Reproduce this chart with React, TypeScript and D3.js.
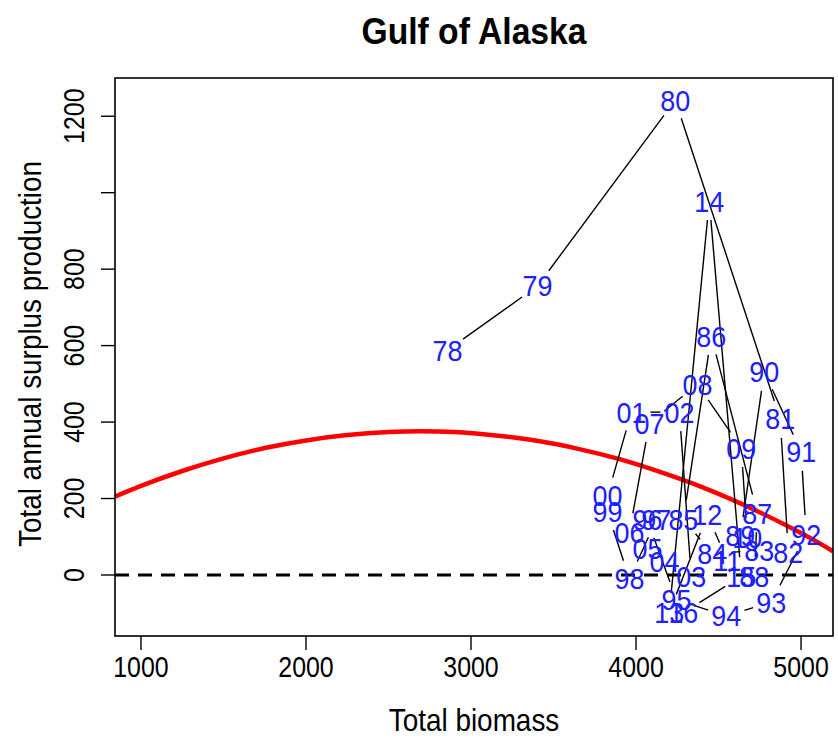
import React from "react";
import * as d3 from "d3";

const years = ["78","79","80","81","82","83","84","85","86","87","88","89","90","91","92","93","94","95","96","97","98","99","00","01","02","03","04","05","06","07","08","09","10","11","12","13","14","15","16"];
const biomass = [2858,3403,4238,4874,4923,4747,4462,4287,4456,4735,4717,4632,4777,5001,5031,4820,4547,4245,4069,4123,3960,3827,3827,3972,4263,4335,4172,4069,3960,4081,4372,4638,4674,4553,4432,4202,4444,4638,4287];
const surplus = [588,756,1242,408,60,65,55,146,625,162,-3,102,531,322,107,-71,-107,-65,144,144,-10,165,207,426,426,-5,34,68,112,397,499,332,99,39,157,-97,978,-3,-99];

const curveB = [842,1000,1250,1500,1750,2000,2250,2500,2700,2900,3150,3400,3650,3900,4150,4400,4650,4900,5100,5194];
const curveP = [205,233,272,305,332,352,366,374,376,374,365,351,330,303,269,230,184,132,86,62];

const xTicks = [1000,2000,3000,4000,5000];
const yTicks = [0,200,400,600,800,1000,1200];
const yTickLabels = ["0","200","400","600","800","","1200"];

const W = 838, H = 740;
const L = 115, R = 833, T = 78, B = 636;

export default function App() {
  const x = d3.scaleLinear().domain([842.6, 5193.7]).range([L, R]);
  const y = d3.scaleLinear().domain([-159.6, 1300]).range([B, T]);
  const font = "'Liberation Sans', Arial, Helvetica, sans-serif";

  const pts = years.map((yr, i) => ({ yr, px: x(biomass[i]), py: y(surplus[i]) }));
  const gap = 19;
  const segs: { x1: number; y1: number; x2: number; y2: number }[] = [];
  for (let i = 0; i < pts.length - 1; i++) {
    const a = pts[i], b = pts[i + 1];
    const dx = b.px - a.px, dy = b.py - a.py;
    const len = Math.hypot(dx, dy);
    if (len <= 2 * gap) continue;
    const ux = dx / len, uy = dy / len;
    segs.push({ x1: a.px + ux * gap, y1: a.py + uy * gap, x2: b.px - ux * gap, y2: b.py - uy * gap });
  }

  const line = d3.line<number>().x((_, i) => x(curveB[i])).y((d) => y(d)).curve(d3.curveMonotoneX);

  return (
    <svg width={W} height={H} style={{ position: "absolute", left: 0, top: 0, background: "#fff" }} fontFamily={font}>
      <defs>
        <clipPath id="plotclip">
          <rect x={L} y={T} width={R - L} height={B - T} />
        </clipPath>
      </defs>
      <rect x={0} y={0} width={W} height={H} fill="#fff" />
      <text transform={`translate(${(L + R) / 2},44) scale(0.91,1)`} textAnchor="middle" fontSize={37} fontWeight="bold">Gulf of Alaska</text>

      <g clipPath="url(#plotclip)">
        <line x1={L} x2={R} y1={y(0)} y2={y(0)} stroke="#000" strokeWidth={2.8} strokeDasharray="14,9" />
        <path d={line(curveP) || ""} fill="none" stroke="#ff0000" strokeWidth={4.5} />
        {segs.map((s, i) => (
          <line key={i} x1={s.x1} y1={s.y1} x2={s.x2} y2={s.y2} stroke="#000" strokeWidth={1.4} />
        ))}
        {pts.map((p, i) => (
          <text key={i} transform={`translate(${p.px},${p.py}) scale(0.93,1)`} dy="0.36em" textAnchor="middle" fontSize={29} fill="#2020ff">{p.yr}</text>
        ))}
      </g>

      <rect x={L} y={T} width={R - L} height={B - T} fill="none" stroke="#000" strokeWidth={1.6} />

      {xTicks.map((t) => (
        <g key={t}>
          <line x1={x(t)} x2={x(t)} y1={B} y2={B + 14} stroke="#000" strokeWidth={1.4} />
          <text transform={`translate(${x(t)},677) scale(0.86,1)`} textAnchor="middle" fontSize={29}>{t}</text>
        </g>
      ))}
      {yTicks.map((t, i) => (
        <g key={t}>
          <line x1={L - 14} x2={L} y1={y(t)} y2={y(t)} stroke="#000" strokeWidth={1.4} />
          {yTickLabels[i] && (
            <text transform={`translate(84,${y(t)}) rotate(-90) scale(0.86,1)`} textAnchor="middle" fontSize={29}>{yTickLabels[i]}</text>
          )}
        </g>
      ))}
      <text transform={`translate(${(L + R) / 2},731) scale(0.9,1)`} textAnchor="middle" fontSize={31}>Total biomass</text>
      <text transform={`translate(41,${(T + B) / 2 - 3}) rotate(-90) scale(0.9,1)`} textAnchor="middle" fontSize={31}>Total annual surplus production</text>
    </svg>
  );
}
